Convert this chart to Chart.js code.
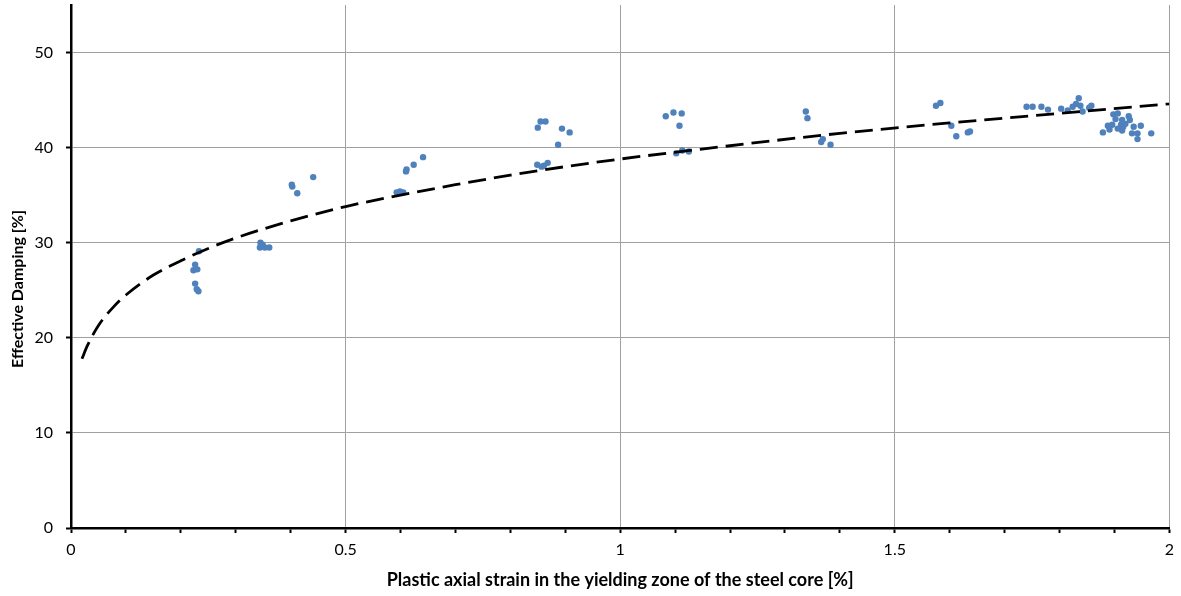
<!DOCTYPE html>
<html>
<head>
<meta charset="utf-8">
<script src="https://cdn.jsdelivr.net/npm/chart.js@4"></script>
<style>
  html, body { margin: 0; padding: 0; background: #fff; }
  #wrap { width: 1181px; height: 596px; }
</style>
</head>
<body>
<div id="wrap"><canvas id="dampingChart"></canvas></div>
<script>
// test results
const strainX = [
  0.233, 0.226, 0.223, 0.230, 0.226, 0.229, 0.232,
  0.345, 0.344, 0.353, 0.361, 0.349,
  0.402, 0.403, 0.412, 0.441,
  0.599, 0.593, 0.605, 0.610, 0.611, 0.624, 0.641,
  0.850, 0.855, 0.864, 0.894, 0.908, 0.887, 0.849, 0.857, 0.868, 0.861,
  1.083, 1.097, 1.112, 1.108, 1.102, 1.113, 1.125,
  1.338, 1.341, 1.369, 1.383, 1.366,
  1.575, 1.583, 1.603, 1.612, 1.633, 1.637,
  1.740, 1.751, 1.767, 1.779, 1.803, 1.815, 1.824, 1.830, 1.835, 1.838, 1.842, 1.854, 1.858,
  1.898, 1.906, 1.926, 1.902, 1.914, 1.928, 1.888, 1.896, 1.912, 1.920, 1.935, 1.948,
  1.879, 1.891, 1.906, 1.914, 1.932, 1.942, 1.942, 1.967, 1.916
];
const dampingY = [
  29.1, 27.7, 27.1, 27.2, 25.7, 25.1, 24.9,
  30.0, 29.5, 29.5, 29.5, 29.8,
  36.1, 35.9, 35.2, 36.9,
  35.4, 35.3, 35.3, 37.5, 37.7, 38.2, 39.0,
  42.1, 42.75, 42.75, 42.0, 41.6, 40.3, 38.2, 38.0, 38.4, 38.1,
  43.3, 43.7, 43.6, 42.3, 39.4, 39.7, 39.6,
  43.8, 43.1, 40.9, 40.3, 40.6,
  44.4, 44.7, 42.3, 41.2, 41.6, 41.7,
  44.3, 44.3, 44.3, 44.0, 44.1, 43.9, 44.3, 44.6, 45.2, 44.4, 43.8, 44.2, 44.4,
  43.5, 43.6, 43.3, 43.0, 42.9, 42.9, 42.3, 42.4, 42.4, 42.5, 42.2, 42.3,
  41.6, 41.9, 42.0, 41.8, 41.5, 41.5, 40.9, 41.5, 42.2
];

// fitted trend curve (dashed)
const trendX = [0.02, 0.03, 0.05, 0.075, 0.1, 0.15, 0.2, 0.25, 0.3, 0.4, 0.5, 0.6, 0.7, 0.8, 0.9, 1.0, 1.2, 1.4, 1.6, 1.8, 2.0];
const trendY = [17.8, 19.2, 21.3, 23.1, 24.5, 26.6, 28.1, 29.4, 30.5, 32.3, 33.8, 35.0, 36.1, 37.1, 38.0, 38.8, 40.2, 41.5, 42.6, 43.6, 44.6];

const xLabelTicks = [0, 0.5, 1, 1.5, 2];
const yLabelTicks = [0, 10, 20, 30, 40, 50];

const xTitle = 'Plastic axial strain in the yielding zone of the steel core [%]';
const yTitle = 'Effective Damping [%]';

function isLabelTick(list, v) {
  return list.some(t => Math.abs(t - v) < 1e-6);
}

// y axis title drawn by hand so it sits where the original has it
const yTitlePlugin = {
  id: 'yTitle',
  afterDraw(chart) {
    const ctx = chart.ctx;
    ctx.save();
    ctx.translate(18, 289);
    ctx.rotate(-Math.PI / 2);
    ctx.font = 'bold 16px Lato';
    ctx.fillStyle = '#000';
    ctx.textAlign = 'center';
    ctx.textBaseline = 'middle';
    ctx.fillText(yTitle, 0, 0);
    ctx.restore();
  }
};

const ctx = document.getElementById('dampingChart').getContext('2d');
new Chart(ctx, {
  type: 'scatter',
  data: {
    datasets: [
      {
        label: 'Trend',
        data: trendX.map((x, i) => ({ x: x, y: trendY[i] })),
        showLine: true,
        borderColor: '#000',
        borderWidth: 2.8,
        borderDash: [18, 8],
        pointRadius: 0,
        cubicInterpolationMode: 'monotone',
        order: 0
      },
      {
        label: 'Tests',
        data: strainX.map((x, i) => ({ x: x, y: dampingY[i] })),
        backgroundColor: '#4f81bd',
        borderColor: '#4f81bd',
        borderWidth: 0,
        pointRadius: 3.2,
        order: 1
      }
    ]
  },
  options: {
    responsive: true,
    maintainAspectRatio: false,
    animation: false,
    layout: { padding: { top: 5, right: 11, left: 0, bottom: 0 } },
    plugins: {
      legend: { display: false },
      tooltip: { enabled: false }
    },
    scales: {
      x: {
        type: 'linear',
        min: 0,
        max: 2,
        border: { color: '#000', width: 2.5 },
        grid: {
          color: c => (c.tick && c.tick.value > 0 && isLabelTick(xLabelTicks, c.tick.value)) ? '#a0a0a0' : 'rgba(0,0,0,0)',
          lineWidth: 1,
          tickColor: '#000',
          tickLength: 5,
          tickWidth: 2
        },
        ticks: {
          stepSize: 0.1,
          autoSkip: false,
          maxRotation: 0,
          includeBounds: false,
          padding: 7,
          color: '#000',
          font: { family: 'Lato', size: 16 },
          callback: v => isLabelTick(xLabelTicks, v) ? String(v) : ''
        },
        title: {
          display: true,
          text: xTitle,
          color: '#000',
          font: { family: 'Lato', size: 18, weight: 'bold' },
          padding: { top: 0, bottom: 5 }
        },
        afterFit: s => { s.height = 68; }
      },
      y: {
        type: 'linear',
        min: 0,
        max: 55,
        border: { color: '#000', width: 2.5 },
        grid: {
          color: c => (c.tick && c.tick.value > 0) ? '#a0a0a0' : 'rgba(0,0,0,0)',
          lineWidth: 1,
          tickColor: '#000',
          tickLength: 5,
          tickWidth: 2
        },
        ticks: {
          stepSize: 10,
          includeBounds: false,
          padding: 13,
          color: '#000',
          font: { family: 'Lato', size: 16 },
          callback: v => isLabelTick(yLabelTicks, v) ? String(v) : ''
        },
        afterFit: s => { s.width = 71; s.paddingTop = 0; s.paddingBottom = 0; }
      }
    }
  },
  plugins: [yTitlePlugin]
});
</script>
</body>
</html>
